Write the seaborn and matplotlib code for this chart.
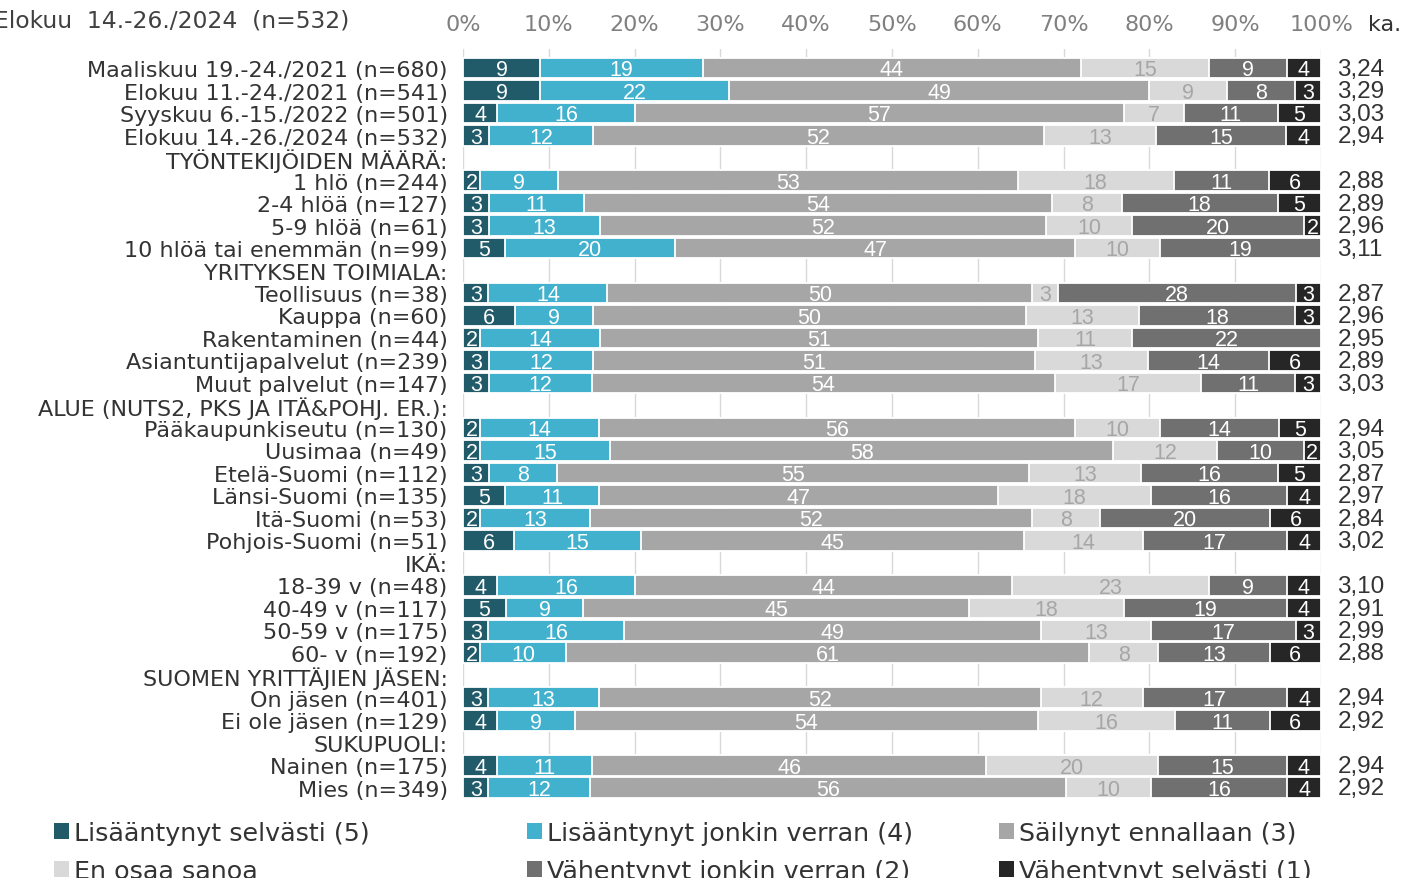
import matplotlib
matplotlib.use("Agg")
import matplotlib.pyplot as plt
from matplotlib.patches import Patch
from matplotlib import font_manager
import numpy as np
import pandas as pd
import seaborn as sns

# ---------------- data ----------------
row_labels = [
    "Maaliskuu 19.-24./2021 (n=680)",
    "Elokuu 11.-24./2021 (n=541)",
    "Syyskuu 6.-15./2022 (n=501)",
    "Elokuu 14.-26./2024 (n=532)",
    "TYÖNTEKIJÖIDEN MÄÄRÄ:",
    "1 hlö (n=244)",
    "2-4 hlöä (n=127)",
    "5-9 hlöä (n=61)",
    "10 hlöä tai enemmän (n=99)",
    "YRITYKSEN TOIMIALA:",
    "Teollisuus (n=38)",
    "Kauppa (n=60)",
    "Rakentaminen (n=44)",
    "Asiantuntijapalvelut (n=239)",
    "Muut palvelut (n=147)",
    "ALUE (NUTS2, PKS JA ITÄ&POHJ. ER.):",
    "Pääkaupunkiseutu (n=130)",
    "Uusimaa (n=49)",
    "Etelä-Suomi (n=112)",
    "Länsi-Suomi (n=135)",
    "Itä-Suomi (n=53)",
    "Pohjois-Suomi (n=51)",
    "IKÄ:",
    "18-39 v (n=48)",
    "40-49 v (n=117)",
    "50-59 v (n=175)",
    "60- v (n=192)",
    "SUOMEN YRITTÄJIEN JÄSEN:",
    "On jäsen (n=401)",
    "Ei ole jäsen (n=129)",
    "SUKUPUOLI:",
    "Nainen (n=175)",
    "Mies (n=349)",
]

series_names = [
    "Lisääntynyt selvästi (5)",
    "Lisääntynyt jonkin verran (4)",
    "Säilynyt ennallaan (3)",
    "En osaa sanoa",
    "Vähentynyt jonkin verran (2)",
    "Vähentynyt selvästi (1)",
]

# None = header row (no bar)
s5 = [9, 9, 4, 3, None, 2, 3, 3, 5, None, 3, 6, 2, 3, 3, None, 2, 2, 3, 5, 2, 6, None, 4, 5, 3, 2, None, 3, 4, None, 4, 3]
s4 = [19, 22, 16, 12, None, 9, 11, 13, 20, None, 14, 9, 14, 12, 12, None, 14, 15, 8, 11, 13, 15, None, 16, 9, 16, 10, None, 13, 9, None, 11, 12]
s3 = [44, 49, 57, 52, None, 53, 54, 52, 47, None, 50, 50, 51, 51, 54, None, 56, 58, 55, 47, 52, 45, None, 44, 45, 49, 61, None, 52, 54, None, 46, 56]
seos = [15, 9, 7, 13, None, 18, 8, 10, 10, None, 3, 13, 11, 13, 17, None, 10, 12, 13, 18, 8, 14, None, 23, 18, 13, 8, None, 12, 16, None, 20, 10]
s2 = [9, 8, 11, 15, None, 11, 18, 20, 19, None, 28, 18, 22, 14, 11, None, 14, 10, 16, 16, 20, 17, None, 9, 19, 17, 13, None, 17, 11, None, 15, 16]
s1 = [4, 3, 5, 4, None, 6, 5, 2, 0, None, 3, 3, 0, 6, 3, None, 5, 2, 5, 4, 6, 4, None, 4, 4, 3, 6, None, 4, 6, None, 4, 4]
averages = ["3,24", "3,29", "3,03", "2,94", "", "2,88", "2,89", "2,96", "3,11", "",
            "2,87", "2,96", "2,95", "2,89", "3,03", "", "2,94", "3,05", "2,87", "2,97",
            "2,84", "3,02", "", "3,10", "2,91", "2,99", "2,88", "", "2,94", "2,92", "",
            "2,94", "2,92"]

tick_values = [0, 10, 20, 30, 40, 50, 60, 70, 80, 90, 100]
tick_labels = ["0%", "10%", "20%", "30%", "40%", "50%", "60%", "70%", "80%", "90%", "100%"]

colors = ["#215A69", "#41B1CE", "#A6A6A6", "#D9D9D9", "#707070", "#262626"]
label_colors = ["white", "white", "white", "#A6A6A6", "white", "white"]

# ---------------- setup ----------------
sns.set_theme(style="white")
plt.rcParams["font.family"] = ["DejaVu Sans"]

avail = {f.name for f in font_manager.fontManager.ttflist}
arial_like = "Liberation Sans" if "Liberation Sans" in avail else "DejaVu Sans"
num_font = dict(family=[arial_like, "DejaVu Sans"], fontsize=15.5)
avg_font = dict(family=[arial_like, "DejaVu Sans"], fontsize=17.5)

W, H = 1404, 879
fig = plt.figure(figsize=(W / 100, H / 100), dpi=100)
ax_left, ax_right = 463, 1321
ax_top, ax_bot = 50, 800
ax = fig.add_axes([ax_left / W, 1 - ax_bot / H, (ax_right - ax_left) / W, (ax_bot - ax_top) / H])

series = [s5, s4, s3, seos, s2, s1]
records = []
for i, lab in enumerate(row_labels):
    vals = [s[i] for s in series]
    if vals[0] is None:
        continue
    tot = float(sum(vals))
    cum = 0.0
    for k, v in enumerate(vals):
        w = v / tot * 100.0
        records.append({"label": lab, "k": k, "value": v, "left": cum, "width": w, "cum": cum + w})
        cum += w
df = pd.DataFrame(records)

# overlay cumulative bars from rightmost segment down to first
for k in reversed(range(6)):
    sub = df[df["k"] == k]
    sns.barplot(data=sub, x="cum", y="label", order=row_labels, orient="h",
                color=colors[k], saturation=1, width=0.92,
                edgecolor="white", linewidth=1.3, ax=ax, errorbar=None)

# segment labels
for _, r in df.iterrows():
    if r["value"] <= 0:
        continue
    yi = row_labels.index(r["label"])
    ax.text(r["left"] + r["width"] / 2, yi + 0.08, f"{int(r['value'])}",
            ha="center", va="center", color=label_colors[int(r["k"])], **num_font)

# averages
for i, a in enumerate(averages):
    if a:
        ax.text(101.9, i + 0.03, a, ha="left", va="center", color="#333333", clip_on=False, **avg_font)

ax.set_xlim(0, 100)
ax.set_ylim(32.5, -0.85)
ax.xaxis.tick_top()
ax.set_xticks(tick_values)
ax.set_xticklabels(tick_labels, fontsize=16, color="#808080")
ax.tick_params(axis="x", length=0, pad=11)
ax.tick_params(axis="y", length=0, pad=11, labelsize=16, labelcolor="#333333")
ax.set_xlabel("")
ax.set_ylabel("")
ax.grid(axis="x", color="#D9D9D9", linewidth=1)
ax.grid(axis="y", visible=False)
ax.set_axisbelow(True)
for sp in ax.spines.values():
    sp.set_visible(False)

fig.text(1368 / W, 1 - 25 / H, "ka.", ha="left", va="center", fontsize=16, color="#333333")
fig.text(349 / W, 1 - 21 / H, "Elokuu  14.-26./2024  (n=532)", ha="right", va="center",
         fontsize=16.8, color="#404040")

# legend: three columns
cols = [(54, [0, 3]), (527, [1, 4]), (999, [2, 5])]
for x0, idxs in cols:
    handles = [Patch(facecolor=colors[j], edgecolor="none", label=series_names[j]) for j in idxs]
    fig.legend(handles=handles, loc="upper left", bbox_to_anchor=(x0 / W, 1 - 822 / H),
               frameon=False, fontsize=18.3, handlelength=0.6, handleheight=0.6,
               handletextpad=0.18, labelspacing=0.56, borderpad=0, borderaxespad=0,
               labelcolor="#333333")

fig.savefig("out.png", dpi=100)
